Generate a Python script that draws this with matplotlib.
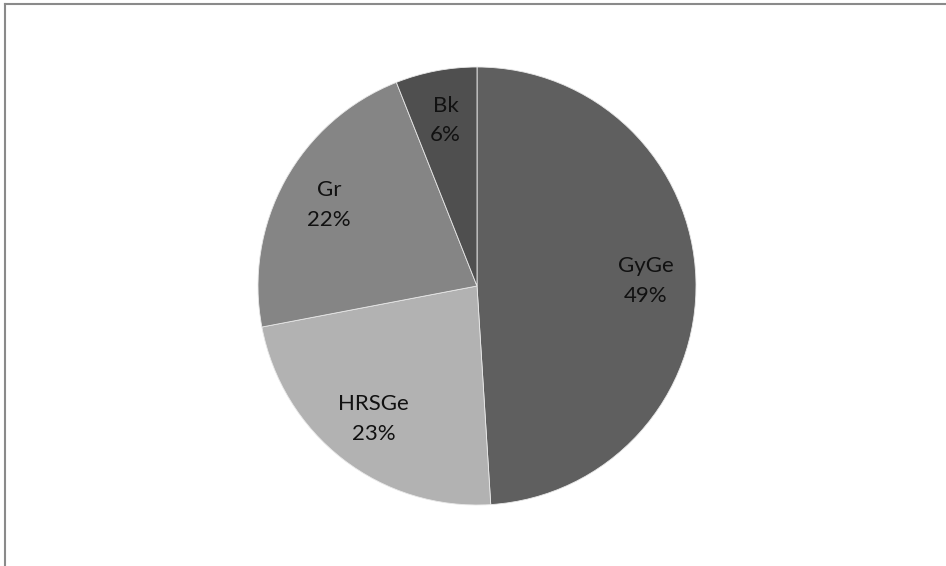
import numpy as np
import matplotlib.pyplot as plt
from matplotlib.lines import Line2D

# Slice data (clockwise from 12 o'clock)
labels = ["GyGe", "HRSGe", "Gr", "Bk"]
shares = [49, 23, 22, 6]
colors = ["#5f5f5f", "#b2b2b2", "#858585", "#4f4f4f"]

W, H = 946, 566
fig = plt.figure(figsize=(W / 100, H / 100), dpi=100)

# Pie: centre (477, 286) px, radius 219 px
cx, cy, r = 477, 286, 219
ax = fig.add_axes([(cx - r) / W, (H - cy - r) / H, 2 * r / W, 2 * r / H])

wedges, texts = ax.pie(shares, colors=colors, startangle=90, counterclock=False,
                       radius=1, wedgeprops=dict(edgecolor="#e8e8e8", linewidth=0.6))
ax.set_xlim(-1, 1)
ax.set_ylim(-1, 1)
ax.set_aspect("equal")
ax.axis("off")

# Labels along each wedge's mid angle
for w, name, s in zip(wedges, labels, shares):
    ang = np.deg2rad((w.theta1 + w.theta2) / 2)
    d = 0.77
    ax.text(d * np.cos(ang), d * np.sin(ang), f"{name}\n{s}%", ha="center", va="center",
            fontsize=16, family="Lato", color="#111111", linespacing=1.6)

# Outer frame: top and left edges only
fig.add_artist(Line2D([4.5 / W, 4.5 / W], [0, 1 - 3.5 / H], color="#8a8a8a", lw=1.5,
                      transform=fig.transFigure))
fig.add_artist(Line2D([4.5 / W, 1], [1 - 3.5 / H, 1 - 3.5 / H], color="#8a8a8a", lw=1.5,
                      transform=fig.transFigure))

fig.savefig("out.png", dpi=100)
